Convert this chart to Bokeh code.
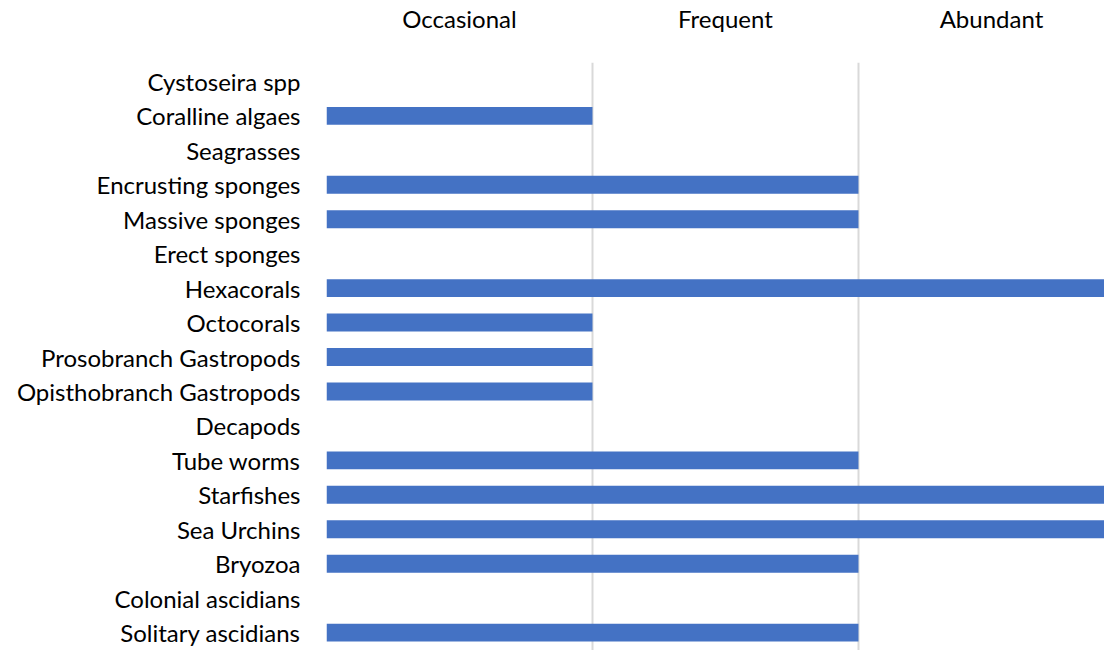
from bokeh.plotting import figure
from bokeh.models import Range1d, FixedTicker, LinearAxis
from bokeh.embed import file_html
from bokeh.resources import INLINE

categories = ["Cystoseira spp", "Coralline algaes", "Seagrasses", "Encrusting sponges",
              "Massive sponges", "Erect sponges", "Hexacorals", "Octocorals",
              "Prosobranch Gastropods", "Opisthobranch Gastropods", "Decapods",
              "Tube worms", "Starfishes", "Sea Urchins", "Bryozoa",
              "Colonial ascidians", "Solitary ascidians"]
values = [0, 1, 0, 2, 2, 0, 3, 1, 1, 1, 0, 2, 3, 3, 2, 0, 2]
level_labels = ["Occasional", "Frequent", "Abundant"]
level_positions = [0.5, 1.5, 2.5]
grid_positions = [0, 1, 2, 3]

rows = list(range(len(categories)))

FONT = "Lato"

p = figure(width=1104, height=650, output_backend="svg", toolbar_location=None,
           x_range=Range1d(0, 2.925), y_range=Range1d(16.52, -0.55),
           x_axis_location=None, y_axis_location="left",
           min_border_left=326, min_border_right=0, min_border_top=61, min_border_bottom=0)
p.outline_line_color = None
p.background_fill_color = "white"

p.hbar(y=rows, left=0, right=values, height=0.52, fill_color="#4472C4", line_color=None)

# left category axis
ya = p.yaxis[0]
ya.ticker = FixedTicker(ticks=rows)
ya.major_label_overrides = {i: c for i, c in zip(rows, categories)}
ya.axis_line_color = None
ya.major_tick_line_color = None
ya.minor_tick_line_color = None
ya.major_label_standoff = 20
ya.major_label_text_font = FONT
ya.major_label_text_font_size = "24px"
ya.major_label_text_color = "#000000"

# top level axis
top = LinearAxis(ticker=FixedTicker(ticks=level_positions),
                 major_label_overrides={v: t for v, t in zip(level_positions, level_labels)})
top.axis_line_color = None
top.major_tick_line_color = None
top.minor_tick_line_color = None
top.major_label_standoff = 24
top.major_label_text_font = FONT
top.major_label_text_font_size = "24px"
top.major_label_text_color = "#000000"
p.add_layout(top, "above")

p.ygrid.grid_line_color = None
p.xgrid.ticker = FixedTicker(ticks=grid_positions)
p.xgrid.grid_line_color = "#d9d9d9"
p.xgrid.grid_line_width = 2

open("out.html", "w").write(file_html(p, INLINE))
